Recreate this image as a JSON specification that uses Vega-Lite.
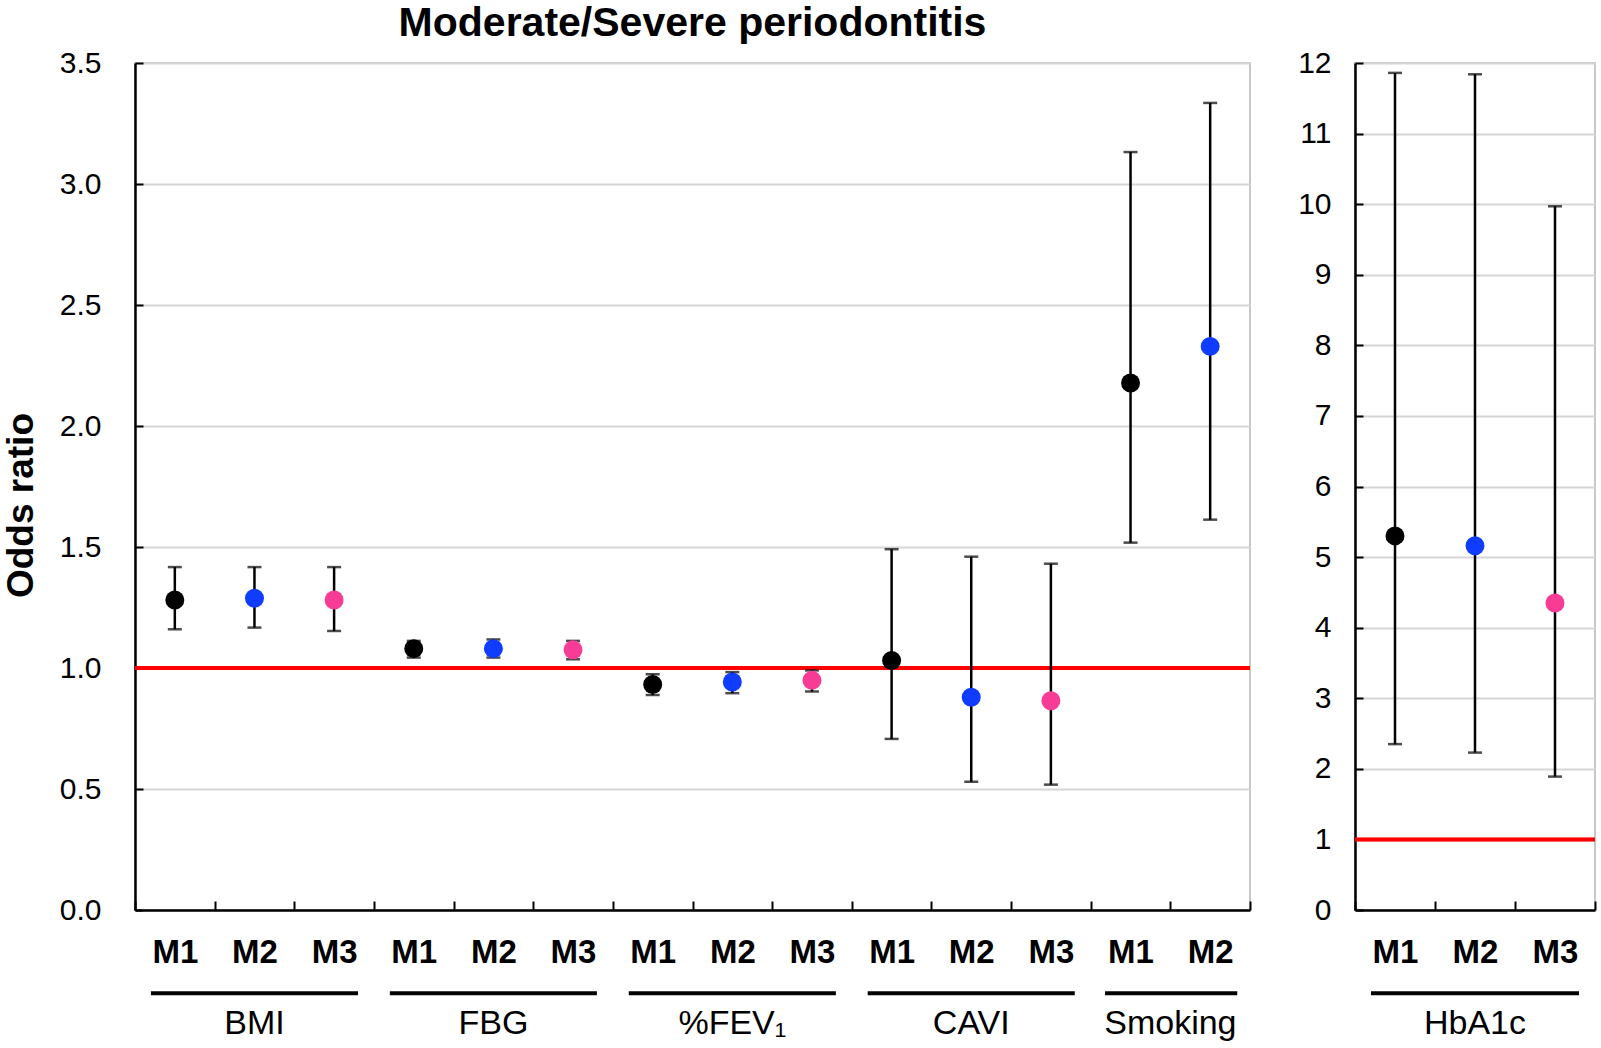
{
  "$schema": "https://vega.github.io/schema/vega-lite/v6.json",
  "padding": {"left": 1, "top": 2, "right": 5, "bottom": 3},
  "background": "white",
  "columns": 2,
  "spacing": {"row": 65, "column": 105},
  "bounds": "flush",
  "concat": [
    {
      "width": 1115,
      "height": 847,
      "title": {"text": "Moderate/Severe periodontitis", "fontSize": 41, "fontWeight": "bold", "anchor": "middle", "frame": "group", "offset": 3, "color": "black"},
      "data": {"values": [
        {"k": "BMI-M1", "m": "M1", "or": 1.281, "lo": 1.160, "hi": 1.417},
        {"k": "BMI-M2", "m": "M2", "or": 1.288, "lo": 1.167, "hi": 1.417},
        {"k": "BMI-M3", "m": "M3", "or": 1.281, "lo": 1.153, "hi": 1.417},
        {"k": "FBG-M1", "m": "M1", "or": 1.080, "lo": 1.043, "hi": 1.112},
        {"k": "FBG-M2", "m": "M2", "or": 1.080, "lo": 1.043, "hi": 1.118},
        {"k": "FBG-M3", "m": "M3", "or": 1.075, "lo": 1.036, "hi": 1.112},
        {"k": "FEV-M1", "m": "M1", "or": 0.932, "lo": 0.888, "hi": 0.974},
        {"k": "FEV-M2", "m": "M2", "or": 0.942, "lo": 0.896, "hi": 0.983},
        {"k": "FEV-M3", "m": "M3", "or": 0.949, "lo": 0.903, "hi": 0.990},
        {"k": "CAVI-M1", "m": "M1", "or": 1.031, "lo": 0.707, "hi": 1.491},
        {"k": "CAVI-M2", "m": "M2", "or": 0.879, "lo": 0.530, "hi": 1.460},
        {"k": "CAVI-M3", "m": "M3", "or": 0.865, "lo": 0.518, "hi": 1.431},
        {"k": "Smoking-M1", "m": "M1", "or": 2.178, "lo": 1.518, "hi": 3.132},
        {"k": "Smoking-M2", "m": "M2", "or": 2.329, "lo": 1.613, "hi": 3.335}
      ]},
      "layer": [
        {
          "mark": {"type": "rule", "color": "#ff0000", "strokeWidth": 3.5},
          "encoding": {
            "y": {"datum": 1, "type": "quantitative", "title": "Odds ratio", "scale": {"domain": [0, 3.5], "nice": false, "zero": true}}
          }
        },
        {
          "mark": {"type": "rule", "color": "black", "strokeWidth": 2.5},
          "encoding": {
            "x": {"field": "k", "type": "nominal", "sort": null, "title": null,
              "scale": {"paddingInner": 0, "paddingOuter": 0},
              "axis": {"labelExpr": "split(datum.value,'-')[1]", "labelFontSize": 33, "labelFontWeight": "bold", "labelColor": "black", "labelAngle": 0, "tickBand": "extent", "tickSize": -9, "tickWidth": 2, "tickColor": "black", "domainColor": "black", "domainWidth": 2.5, "labelPadding": 35, "grid": false}},
            "y": {"field": "lo", "type": "quantitative", "title": "Odds ratio",
              "scale": {"domain": [0, 3.5], "nice": false},
              "axis": {"values": [0, 0.5, 1, 1.5, 2, 2.5, 3, 3.5], "format": ".1f", "grid": true, "gridColor": "#d6d6d6", "gridWidth": 2, "domainColor": "black", "domainWidth": 2.5, "tickColor": "black", "tickSize": -8, "tickWidth": 2, "labelFontSize": 30, "labelColor": "black", "labelPadding": 42, "titleFontSize": 37, "titleFontWeight": "bold", "titleColor": "black", "titlePadding": 19, "titleY": 442}},
            "y2": {"field": "hi"}
          }
        },
        {
          "mark": {"type": "tick", "color": "black", "orient": "horizontal", "size": 14, "thickness": 2.5},
          "encoding": {
            "x": {"field": "k", "type": "nominal", "sort": null, "title": null},
            "y": {"field": "lo", "type": "quantitative", "title": "Odds ratio"}
          }
        },
        {
          "mark": {"type": "tick", "color": "black", "orient": "horizontal", "size": 14, "thickness": 2.5},
          "encoding": {
            "x": {"field": "k", "type": "nominal", "sort": null, "title": null},
            "y": {"field": "hi", "type": "quantitative", "title": "Odds ratio"}
          }
        },
        {
          "mark": {"type": "point", "filled": true, "size": 360, "opacity": 1},
          "encoding": {
            "x": {"field": "k", "type": "nominal", "sort": null, "title": null},
            "y": {"field": "or", "type": "quantitative", "title": "Odds ratio"},
            "color": {"field": "m", "type": "nominal", "scale": {"domain": ["M1", "M2", "M3"], "range": ["#000000", "#0f3cff", "#f83c96"]}, "legend": null}
          }
        }
      ]
    },
    {
      "width": 240,
      "height": 847,
      "data": {"values": [
        {"m": "M1", "or": 5.30, "lo": 2.35, "hi": 11.86},
        {"m": "M2", "or": 5.16, "lo": 2.23, "hi": 11.84},
        {"m": "M3", "or": 4.35, "lo": 1.89, "hi": 9.97}
      ]},
      "layer": [
        {
          "mark": {"type": "rule", "color": "#ff0000", "strokeWidth": 3.5},
          "encoding": {
            "y": {"datum": 1, "type": "quantitative", "title": null, "scale": {"domain": [0, 12], "nice": false}}
          }
        },
        {
          "mark": {"type": "rule", "color": "black", "strokeWidth": 2.5},
          "encoding": {
            "x": {"field": "m", "type": "nominal", "sort": null, "title": null,
              "scale": {"paddingInner": 0, "paddingOuter": 0},
              "axis": {"labelFontSize": 33, "labelFontWeight": "bold", "labelColor": "black", "labelAngle": 0, "tickBand": "extent", "tickSize": -9, "tickWidth": 2, "tickColor": "black", "domainColor": "black", "domainWidth": 2.5, "labelPadding": 35, "grid": false}},
            "y": {"field": "lo", "type": "quantitative", "title": null,
              "scale": {"domain": [0, 12], "nice": false},
              "axis": {"values": [0, 1, 2, 3, 4, 5, 6, 7, 8, 9, 10, 11, 12], "format": "d", "grid": true, "gridColor": "#d6d6d6", "gridWidth": 2, "domainColor": "black", "domainWidth": 2.5, "tickColor": "black", "tickSize": -8, "tickWidth": 2, "labelFontSize": 30, "labelColor": "black", "labelPadding": 32}},
            "y2": {"field": "hi"}
          }
        },
        {
          "mark": {"type": "tick", "color": "black", "orient": "horizontal", "size": 14, "thickness": 2.5},
          "encoding": {
            "x": {"field": "m", "type": "nominal", "sort": null, "title": null},
            "y": {"field": "lo", "type": "quantitative", "title": null}
          }
        },
        {
          "mark": {"type": "tick", "color": "black", "orient": "horizontal", "size": 14, "thickness": 2.5},
          "encoding": {
            "x": {"field": "m", "type": "nominal", "sort": null, "title": null},
            "y": {"field": "hi", "type": "quantitative", "title": null}
          }
        },
        {
          "mark": {"type": "point", "filled": true, "size": 360, "opacity": 1},
          "encoding": {
            "x": {"field": "m", "type": "nominal", "sort": null, "title": null},
            "y": {"field": "or", "type": "quantitative", "title": null},
            "color": {"field": "m", "type": "nominal", "scale": {"domain": ["M1", "M2", "M3"], "range": ["#000000", "#0f3cff", "#f83c96"]}, "legend": null}
          }
        }
      ]
    },
    {
      "width": 1115,
      "height": 70,
      "view": {"stroke": null},
      "data": {"values": [
        {"g": "BMI", "a": 0.2, "b": 2.8, "c": 1.5},
        {"g": "FBG", "a": 3.2, "b": 5.8, "c": 4.5},
        {"g": "%FEV₁", "a": 6.2, "b": 8.8, "c": 7.5},
        {"g": "CAVI", "a": 9.2, "b": 11.8, "c": 10.5},
        {"g": "Smoking", "a": 12.18, "b": 13.84, "c": 13.0}
      ]},
      "layer": [
        {
          "mark": {"type": "rule", "color": "black", "strokeWidth": 4},
          "encoding": {
            "x": {"field": "a", "type": "quantitative", "scale": {"domain": [0, 14], "nice": false, "zero": false}, "axis": null},
            "x2": {"field": "b"},
            "y": {"datum": 0.74, "type": "quantitative", "scale": {"domain": [0, 1]}, "axis": null}
          }
        },
        {
          "mark": {"type": "text", "fontSize": 34, "color": "black", "baseline": "middle", "align": "center"},
          "encoding": {
            "x": {"field": "c", "type": "quantitative", "axis": null},
            "y": {"datum": 0.3, "type": "quantitative", "axis": null},
            "text": {"field": "g"}
          }
        }
      ]
    },
    {
      "width": 240,
      "height": 70,
      "view": {"stroke": null},
      "data": {"values": [
        {"g": "HbA1c", "a": 0.2, "b": 2.8, "c": 1.5}
      ]},
      "layer": [
        {
          "mark": {"type": "rule", "color": "black", "strokeWidth": 4},
          "encoding": {
            "x": {"field": "a", "type": "quantitative", "scale": {"domain": [0, 3], "nice": false, "zero": false}, "axis": null},
            "x2": {"field": "b"},
            "y": {"datum": 0.74, "type": "quantitative", "scale": {"domain": [0, 1]}, "axis": null}
          }
        },
        {
          "mark": {"type": "text", "fontSize": 34, "color": "black", "baseline": "middle", "align": "center"},
          "encoding": {
            "x": {"field": "c", "type": "quantitative", "axis": null},
            "y": {"datum": 0.3, "type": "quantitative", "axis": null},
            "text": {"field": "g"}
          }
        }
      ]
    }
  ],
  "config": {
    "font": "Liberation Sans",
    "view": {"stroke": "#c8c8c8", "strokeWidth": 2}
  }
}
